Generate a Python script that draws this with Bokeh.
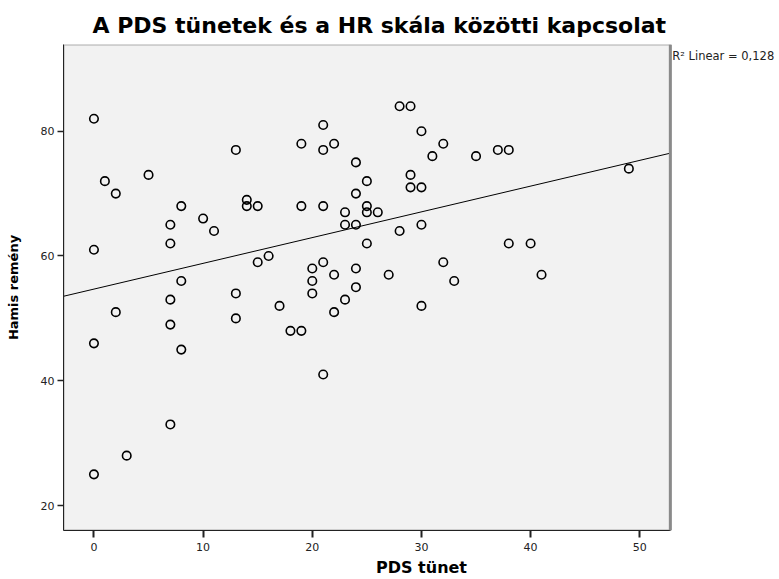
import numpy as np
from bokeh.plotting import figure
from bokeh.models import Range1d, FixedTicker, Span, Label, BoxAnnotation
from bokeh.embed import file_html
from bokeh.resources import INLINE

# Data
pds_tunet = [0, 0, 0, 0, 1, 2, 2, 3, 5, 7, 7, 7, 7, 7, 8, 8, 8, 10, 11, 13, 13, 13,
             14, 14, 15, 15, 16, 17, 18, 19, 19, 19, 20, 20, 20, 21, 21, 21, 21, 21,
             22, 22, 22, 23, 23, 23, 24, 24, 24, 24, 24, 25, 25, 25, 25, 26, 27, 28,
             28, 29, 29, 29, 30, 30, 30, 30, 31, 32, 32, 33, 35, 37, 38, 38, 40, 41, 49]
hamis_remeny = [82, 61, 46, 25, 72, 70, 51, 28, 73, 65, 62, 53, 49, 33, 68, 56, 45, 66,
                64, 77, 54, 50, 69, 68, 68, 59, 60, 52, 48, 78, 68, 48, 58, 56, 54, 81,
                77, 68, 59, 41, 78, 57, 51, 67, 65, 53, 75, 70, 65, 58, 55, 72, 68, 67,
                62, 67, 57, 84, 64, 84, 73, 71, 80, 71, 65, 52, 76, 78, 59, 56, 76, 77,
                77, 62, 62, 57, 74]
x_ticks = [0, 10, 20, 30, 40, 50]
y_ticks = [20, 40, 60, 80]
r2_text = "R² Linear = 0,128"

FONT = "DejaVu Sans"
# plotted data region
x0, x1 = -2.79, 52.8
y0, y1 = 16.0, 93.9
# the canvas frame extends to the right edge to host the R² note
x_frame_end = 62.8

p = figure(width=779, height=579, output_backend="svg", toolbar_location=None,
           x_range=Range1d(x0, x_frame_end), y_range=Range1d(y0, y1),
           min_border_left=63, min_border_right=0, min_border_top=44,
           min_border_bottom=48)

p.title.text = "A PDS tünetek és a HR skála közötti kapcsolat"
p.title.text_font = FONT
p.title.text_font_size = "22px"
p.title.text_font_style = "bold"
p.title.text_color = "black"
p.title.align = "left"
p.title.offset = 29
p.title.standoff = 14

p.background_fill_color = "white"
p.border_fill_color = "white"
p.outline_line_color = None
p.xgrid.visible = False
p.ygrid.visible = False

# grey plot area with black top edge
p.add_layout(BoxAnnotation(left=x0, right=x1, bottom=y0, top=y1, level="underlay",
                           fill_color="#f2f2f2", fill_alpha=1,
                           line_color="black", line_width=2))

for ax in (p.xaxis[0], p.yaxis[0]):
    ax.major_label_text_font = FONT
    ax.major_label_text_font_size = "11px"
    ax.major_label_text_color = "#222222"
    ax.minor_tick_line_color = None
    ax.major_tick_in = 0
    ax.axis_line_color = "#222222"
    ax.major_tick_line_color = "#222222"
    ax.axis_label_text_font = FONT
    ax.axis_label_text_font_style = "bold"
    ax.axis_label_text_color = "black"

p.xaxis.ticker = FixedTicker(ticks=x_ticks)
p.yaxis.ticker = FixedTicker(ticks=y_ticks)
p.xaxis.bounds = (x0, x1)
p.xaxis.major_tick_out = 7
p.xaxis.major_tick_line_width = 2
p.xaxis.major_label_standoff = 5
p.yaxis.major_tick_out = 6
p.yaxis.major_tick_line_width = 1.5
p.yaxis.major_label_standoff = 3

p.xaxis.axis_label = "PDS tünet"
p.xaxis.axis_label_text_font_size = "16px"
p.xaxis.axis_label_standoff = 4
p.yaxis.axis_label = "Hamis remény"
p.yaxis.axis_label_text_font_size = "13px"
p.yaxis.axis_label_standoff = 17

# regression line computed from the data
slope, intercept = np.polyfit(pds_tunet, hamis_remeny, 1)
p.line([x0, x1], [intercept + slope * x0, intercept + slope * x1],
       line_color="black", line_width=1)

p.scatter(pds_tunet, hamis_remeny, marker="circle", size=8.5,
          fill_color=None, line_color="black", line_width=1.6)

# right edge of the plot area (grey, thicker)
p.add_layout(Span(location=x1, dimension="height", line_color="#8a8a8a", line_width=3))

# R² note right of the plot area
p.add_layout(Label(x=x1, y=y1, x_offset=2, y_offset=-11, text=r2_text,
                   text_font=FONT, text_font_size="11.5px", text_align="left",
                   text_baseline="middle", text_color="#222222"))

open("out.html", "w").write(file_html(p, INLINE))
